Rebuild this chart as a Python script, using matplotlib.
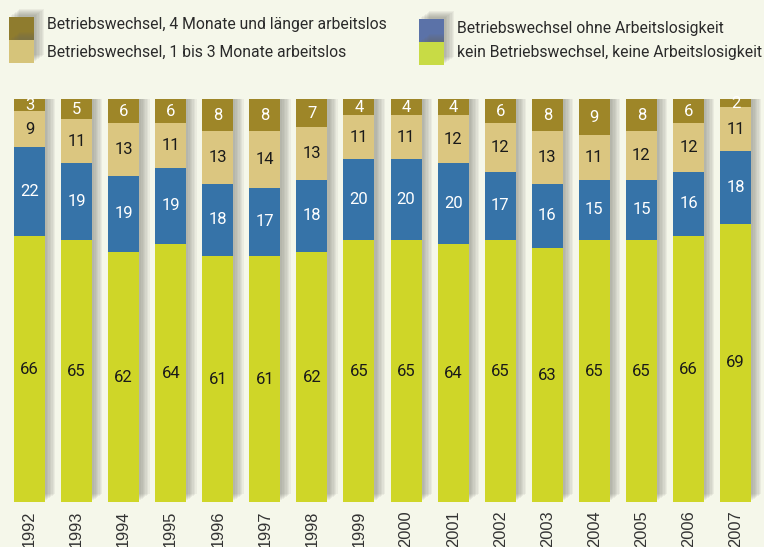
import matplotlib
matplotlib.use("Agg")
import matplotlib.pyplot as plt
import matplotlib.patheffects as pe
from matplotlib.patches import Rectangle
import numpy as np

years = ["1992", "1993", "1994", "1995", "1996", "1997", "1998", "1999",
         "2000", "2001", "2002", "2003", "2004", "2005", "2006", "2007"]
kein = [66, 65, 62, 64, 61, 61, 62, 65, 65, 64, 65, 63, 65, 65, 66, 69]
ohne = [22, 19, 19, 19, 18, 17, 18, 20, 20, 20, 17, 16, 15, 15, 16, 18]
kurz = [9, 11, 13, 11, 13, 14, 13, 11, 11, 12, 12, 13, 11, 12, 12, 11]
lang = [3, 5, 6, 6, 8, 8, 7, 4, 4, 4, 6, 8, 9, 8, 6, 2]

labels = ["kein Betriebswechsel, keine Arbeitslosigkeit",
          "Betriebswechsel ohne Arbeitslosigkeit",
          "Betriebswechsel, 1 bis 3 Monate arbeitslos",
          "Betriebswechsel, 4 Monate und länger arbeitslos"]

bar_colors = ["#cfd628", "#3673a8", "#dbc680", "#9e8628"]
legend_colors = ["#c8db45", "#5b72a8", "#d6c47a", "#8f7c2e"]
text_colors = ["#1a1a1a", "white", "#1a1a1a", "white"]
bg = "#f5f7ea"

W, H = 764, 547
fig = plt.figure(figsize=(W / 100, H / 100), dpi=100)
fig.patch.set_facecolor(bg)

ax = fig.add_axes([0, (H - 502) / H, 1, 403 / H])
ax.set_facecolor(bg)
n = len(years)
x = np.arange(n)
spacing = 47.07
left = -29.5 / spacing
ax.set_xlim(left, left + W / spacing)
ax.set_ylim(0, 100)
width = 31 / spacing

shadow = [pe.SimplePatchShadow(offset=(o, 0.8 * o), shadow_rgbFace="#6a6a60", alpha=0.08)
          for o in (1.5, 2.5, 3.5, 4.5, 5.5, 6.5, 7.5)] + [pe.Normal()]

series = [kein, ohne, kurz, lang]
bottom = np.zeros(n)
for vals, col, tcol in zip(series, bar_colors, text_colors):
    vals = np.array(vals, dtype=float)
    bars = ax.bar(x, vals, width, bottom=bottom, color=col, edgecolor="none", zorder=2)
    for b in bars:
        b.set_path_effects(shadow)
    for xi, v, b0 in zip(x, vals, bottom):
        ax.text(xi, b0 + v / 2, f"{int(v)}", ha="center", va="center",
                color=tcol, fontsize=12, family="Roboto", zorder=5)
    bottom = bottom + vals

for s in ax.spines.values():
    s.set_visible(False)
ax.set_yticks([])
ax.set_xticks(x)
ax.set_xticklabels(years, rotation=90, va="top", ha="center",
                   fontsize=11.8, color="#333333", family="Liberation Sans")
ax.tick_params(axis="x", length=0, pad=6)

# legend
legfont = dict(fontsize=11.3, color="#2a2a2a", family="Roboto", fontstretch="condensed",
               va="center", ha="left")
entries = [(9, 17, 3, 47, 25), (9, 40, 2, 47, 52), (419, 19, 1, 457, 28), (419, 42, 0, 457, 53)]
for (px, py, idx, tx, ty) in entries:
    r = Rectangle((px / W, 1 - (py + 23) / H), 25 / W, 23 / H, transform=fig.transFigure,
                  facecolor=legend_colors[idx], edgecolor="none", zorder=3)
    r.set_path_effects(shadow)
    fig.add_artist(r)
    fig.text(tx / W, 1 - ty / H, labels[idx], **legfont)

fig.savefig("out.png", dpi=100, facecolor=bg)
